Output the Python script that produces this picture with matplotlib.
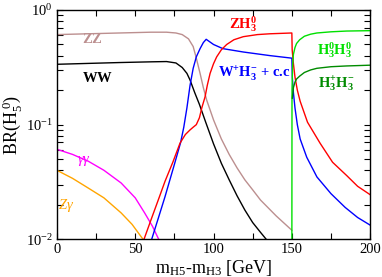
import matplotlib
matplotlib.use('Agg')
import matplotlib.pyplot as plt
from matplotlib.ticker import MultipleLocator, LogLocator, NullFormatter

# branching ratios of H5^0 vs m_H5 - m_H3 (GeV)
ww_x = [0, 20, 40, 60, 70, 76, 80, 83, 85, 88, 91, 95, 100, 105, 110, 115, 120, 125, 130, 135]
ww_y = [0.336, 0.342, 0.348, 0.353, 0.355, 0.345, 0.315, 0.28, 0.245, 0.19, 0.15, 0.105,
        0.068, 0.046, 0.033, 0.024, 0.018, 0.014, 0.0115, 0.0095]

zz_x = [0, 20, 40, 60, 70, 76, 80, 84, 87, 89, 91.4, 93.5, 95.6, 100, 105, 110, 115, 120,
        125, 130, 140, 150]
zz_y = [0.61, 0.62, 0.63, 0.64, 0.64, 0.63, 0.61, 0.56, 0.48, 0.38, 0.28, 0.21, 0.164, 0.11,
        0.075, 0.055, 0.042, 0.033, 0.027, 0.022, 0.016, 0.012]

gg_x = [0, 10, 20, 30, 41, 50, 56, 61, 65]
gg_y = [0.061, 0.055, 0.048, 0.040, 0.031, 0.023, 0.017, 0.013, 0.0100]

za_x = [0, 10, 20, 30, 41, 48, 55]
za_y = [0.040, 0.034, 0.028, 0.023, 0.017, 0.0135, 0.0100]

wh_x = [60.5, 65, 69, 75, 79, 81, 83, 85, 87, 89, 91.4, 93.5, 95.3, 100, 106, 119, 136, 150,
        150.3, 151, 152, 153.5, 155.3, 159.5, 166, 175, 184, 192, 200]
wh_y = [0.01, 0.0157, 0.0235, 0.045, 0.07, 0.095, 0.14, 0.22, 0.31, 0.39, 0.46, 0.52, 0.555,
        0.50, 0.46, 0.43, 0.40, 0.38, 0.26, 0.19, 0.14, 0.10, 0.075, 0.052, 0.035, 0.025,
        0.019, 0.0155, 0.0133]

zh_x = [55.6, 60, 65, 69, 74, 78.6, 82, 85, 87, 89, 91, 92.5, 94.6, 96, 97.8, 100, 102, 105,
        108.4, 113, 119, 128, 136, 150, 150.2, 151, 152, 153.5, 155.3, 160, 168, 176, 185,
        192, 200]
zh_y = [0.01, 0.0147, 0.0226, 0.032, 0.047, 0.069, 0.082, 0.09, 0.095, 0.10, 0.115, 0.14,
        0.175, 0.22, 0.28, 0.34, 0.39, 0.45, 0.50, 0.55, 0.585, 0.61, 0.62, 0.63, 0.45, 0.34,
        0.26, 0.20, 0.16, 0.105, 0.069, 0.047, 0.036, 0.029, 0.0245]

h0h0_x = [150, 150.1, 150.5, 151, 152, 153, 155, 158, 162, 166, 175, 185, 200]
h0h0_y = [0.005, 0.2, 0.33, 0.41, 0.47, 0.51, 0.55, 0.59, 0.615, 0.63, 0.645, 0.655, 0.66]

hphm_x = [150.3, 151, 152, 153, 155, 158, 162, 166, 175, 185, 200]
hphm_y = [0.17, 0.21, 0.235, 0.25, 0.265, 0.285, 0.3, 0.31, 0.32, 0.325, 0.33]

plt.rcParams['font.family'] = ['Liberation Serif', 'DejaVu Serif']
plt.rcParams['mathtext.fontset'] = 'custom'
plt.rcParams['mathtext.rm'] = 'Liberation Serif'
plt.rcParams['mathtext.it'] = 'Liberation Serif:italic'
plt.rcParams['mathtext.bf'] = 'Liberation Serif:bold'

fig = plt.figure(figsize=(3.82, 2.77), dpi=100)
ax = fig.add_axes([0.149, 0.136, 0.820, 0.828])

lw = 1.0
ax.plot(zz_x, zz_y, color='#bc8f8f', lw=lw)
ax.plot(ww_x, ww_y, color='black', lw=lw)
ax.plot(gg_x, gg_y, color='#ff00ff', lw=lw)
ax.plot(za_x, za_y, color='#ffa500', lw=lw)
ax.plot(wh_x, wh_y, color='#0000ff', lw=lw)
ax.plot(zh_x, zh_y, color='#ff0000', lw=lw)
ax.plot(h0h0_x, h0h0_y, color='#00e000', lw=lw)
ax.plot(hphm_x, hphm_y, color='#008b00', lw=lw)

ax.set_yscale('log')
ax.set_xlim(0, 200)
ax.set_ylim(0.01, 1)

ax.xaxis.set_major_locator(MultipleLocator(50))
ax.xaxis.set_minor_locator(MultipleLocator(25))
ax.yaxis.set_major_locator(LogLocator(base=10))
ax.yaxis.set_minor_locator(LogLocator(base=10, subs=range(2, 10)))
ax.yaxis.set_minor_formatter(NullFormatter())
ax.tick_params(which='both', direction='in', top=True, right=True, length=4.5,
               width=0.8, labelsize=10.5, pad=3)

for s in ax.spines.values():
    s.set_linewidth(1.0)

ax.set_xlabel(r'm$_{\rm H5}$-m$_{\rm H3}$ [GeV]', fontsize=13, labelpad=1)
ax.set_ylabel(r'BR(H$_5^{\ 0}$)', fontsize=13, labelpad=1)

fs = 10.5
ax.text(16, 0.515, r'$\mathbf{ZZ}$', color='#bc8f8f', fontsize=fs, va='baseline')
ax.text(16, 0.235, r'$\mathbf{WW}$', color='black', fontsize=fs, va='baseline')
ax.text(13, 0.046, r'$\gamma\gamma$', color='#ff00ff', fontsize=fs, va='baseline')
ax.text(1, 0.0185, r'$Z\gamma$', color='#ffa500', fontsize=fs, va='baseline')
ax.text(110, 0.69, r'$\mathbf{ZH}_\mathbf{3}^{\mathbf{0}}$', color='#ff0000',
        fontsize=fs, va='baseline')
ax.text(103, 0.26, r'$\mathbf{W}^{\mathbf{+}}\mathbf{H}_\mathbf{3}^{\mathbf{-}}$ + c.c',
        color='#0000ff', fontsize=fs, fontweight='bold', va='baseline')
ax.text(166, 0.41, r'$\mathbf{H}_\mathbf{3}^{\mathbf{0}}\mathbf{H}_\mathbf{3}^{\mathbf{0}}$',
        color='#00e000', fontsize=fs, va='baseline')
ax.text(167, 0.21, r'$\mathbf{H}_\mathbf{3}^{\mathbf{+}}\mathbf{H}_\mathbf{3}^{\mathbf{-}}$',
        color='#008b00', fontsize=fs, va='baseline')

fig.savefig('out.png', dpi=100)
